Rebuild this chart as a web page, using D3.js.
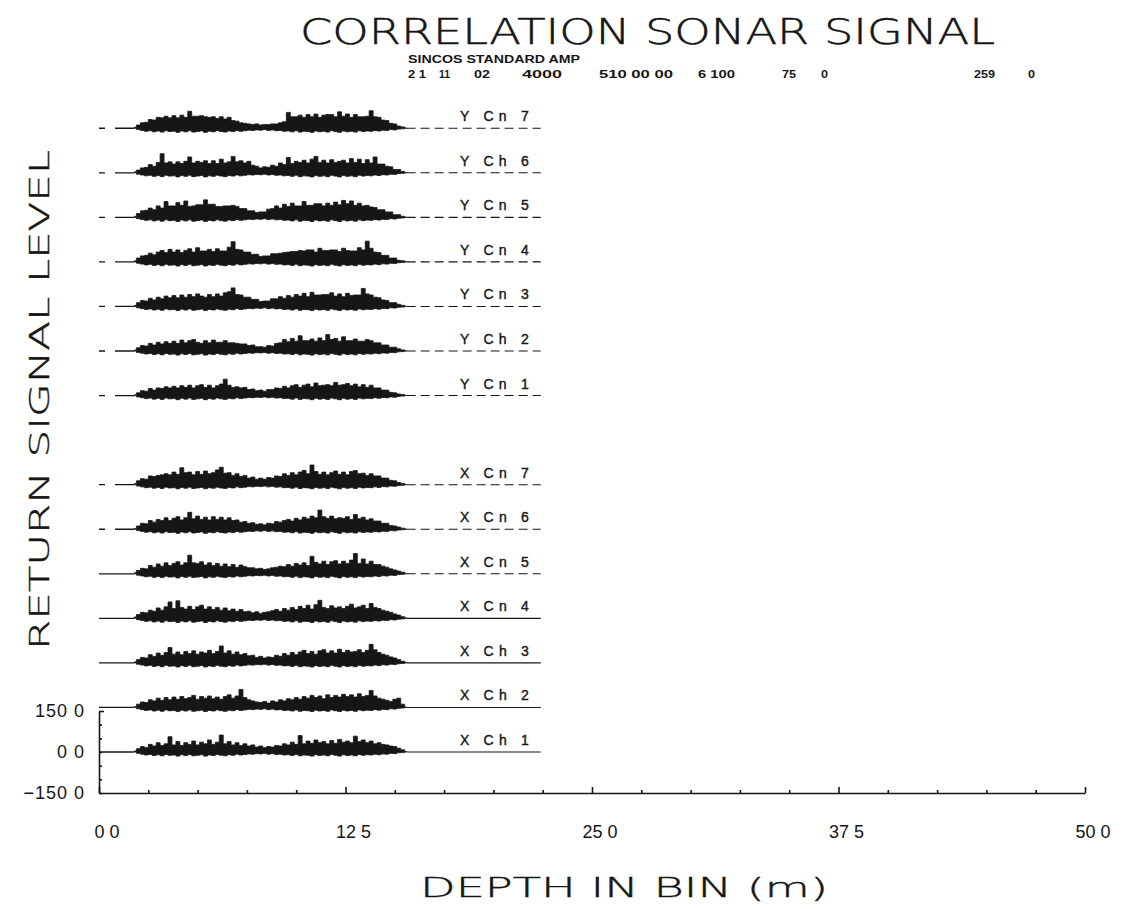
<!DOCTYPE html>
<html><head><meta charset="utf-8">
<script src="https://cdn.jsdelivr.net/npm/d3@7"></script>
<style>body{margin:0;background:#fff}svg{display:block}</style>
</head><body><svg id="c" width="1126" height="909"></svg>
<script>
const title = "CORRELATION SONAR SIGNAL";
const headerLabel = "SINCOS STANDARD AMP";
const headerValues = ["2 1","11","02","4000","510 00 00","6 100","75","0","259","0"];
const xLabel = "DEPTH IN BIN (m)";
const yLabel = "RETURN SIGNAL LEVEL";
const xTickValues = [0, 12.5, 25, 37.5, 50];
const xTickLabels = ["0 0","12 5","25 0","37 5","50 0"];
const yTickValues = [150, 0, -150];
const yTickLabels = ["150 0","0 0","\u2212150 0"];
const channelNames = ["X Ch 1","X Ch 2","X Ch 3","X Cn 4","X Cn 5","X Cn 6","X Cn 7",
                      "Y Cn 1","Y Ch 2","Y Cn 3","Y Cn 4","Y Cn 5","Y Ch 6","Y Cn 7"];
const channelOffsets = [0,163,326,489,652,815,978,1304,1467,1630,1793,1956,2119,2282];
const traceStart = 1.8, traceStep = 0.2, baselineEnd = 22.4;

const traceX1 = [4,12,20,16,28,22,34,24,30,56, 26,38,24,34,28,40,26,36,30,44, 28,36,62,30,38,26,34,24,30,22,
  26,18,22,16,20,18,24,22,30,26, 36,28,60,30,40,32,44,34,38,30, 42,32,46,36,40,34,58,38,44,34, 40,30,34,28,26,22,20,14,8,2];
const traceX2 = [3,12,20,18,28,24,34,26,36,28, 38,30,40,32,36,44,30,40,34,42, 32,38,30,40,46,34,42,66,36,28,
  24,20,18,22,16,24,20,28,24,32, 28,36,30,40,34,44,36,42,32,46, 36,44,38,48,40,46,38,50,40,44, 62,42,34,30,26,22,30,34,12,2];
const traceX3 = [4,12,20,18,30,24,36,28,38,56, 32,40,30,42,34,44,32,40,36,46, 34,42,62,36,44,32,40,30,34,26,
  28,20,24,18,22,20,28,24,34,28, 38,30,40,46,34,42,32,44,48,36, 44,36,50,38,46,40,42,48,38,46, 68,48,38,32,28,22,18,12,6,2];
const traceX4 = [5,14,22,20,30,26,38,30,42,60, 36,64,40,34,44,32,42,48,34,42, 32,40,30,38,28,34,26,32,24,26,
  20,24,18,22,24,28,32,26,36,30, 40,32,44,36,48,34,50,66,40,36, 46,38,42,36,44,52,38,42,48,36, 54,40,36,30,26,22,16,12,6,2];
const traceX5 = [4,12,20,18,30,24,36,28,40,30, 38,44,32,40,68,40,38,44,32,40, 30,38,28,36,26,34,24,32,26,22,
  22,18,20,16,18,22,24,28,26,34, 28,38,32,40,30,64,42,36,46,34, 44,48,36,46,38,50,74,38,54,36, 46,34,34,28,24,18,14,10,6,2];
const traceX6 = [3,12,22,20,32,26,36,32,42,32, 40,46,34,42,62,38,48,36,44,34, 46,36,44,34,42,32,34,26,28,22,
  24,18,20,16,22,20,28,26,32,36, 30,40,34,44,38,48,42,70,46,40, 48,38,42,40,46,36,54,38,44,34, 38,30,30,22,22,14,12,8,4,1];
const traceX7 = [4,14,22,20,32,30,34,36,40,36, 46,38,62,44,46,36,48,38,50,40, 44,54,64,42,44,34,40,30,34,24,
  28,20,24,20,26,24,32,30,40,34, 44,36,46,52,40,72,48,38,46,36, 44,50,38,46,36,48,52,40,42,34, 40,32,32,24,24,16,14,8,4,1];
const traceY1 = [3,10,18,16,26,20,28,26,32,28, 34,28,36,30,38,28,36,40,30,38, 28,36,42,60,38,30,32,28,30,22,
  24,18,20,16,22,22,28,26,34,28, 36,40,30,38,42,32,46,36,38,40, 36,48,38,40,44,36,42,32,40,30, 38,28,28,20,20,12,10,6,4,1];
const traceY2 = [4,12,20,18,28,22,32,26,34,28, 36,28,40,30,38,42,32,28,38,30, 40,32,32,38,30,30,28,26,26,20,
  22,16,16,14,20,18,28,30,42,34, 46,36,56,38,38,44,36,48,38,60, 42,46,36,52,38,38,44,36,36,42, 38,30,30,22,22,14,14,8,4,1];
const traceY3 = [4,14,22,20,30,24,34,28,38,32, 40,32,42,34,44,36,46,38,34,44, 36,46,38,50,54,68,44,42,34,34,
  26,26,18,20,20,28,28,36,30,40, 34,44,38,48,36,52,42,42,44,44, 50,38,46,36,48,40,42,42,66,46, 42,34,32,24,22,14,14,8,4,1];
const traceY4 = [4,14,22,24,32,26,36,42,34,46, 36,44,34,42,48,36,52,40,40,46, 38,48,40,40,54,74,46,44,36,36,
  28,28,20,22,22,30,30,32,34,36, 38,38,42,40,44,44,36,50,42,42, 44,44,38,50,42,40,40,52,44,76, 50,36,34,24,24,14,14,6,4,1];
const traceY5 = [4,14,24,26,34,28,42,34,58,42, 42,54,44,60,40,42,46,46,64,48, 48,40,40,42,42,44,40,32,32,24,
  24,18,20,20,30,32,42,34,48,40, 52,42,42,58,44,44,50,50,42,52, 44,56,46,62,50,60,44,52,42,44, 38,36,28,28,20,20,10,10,4,1];
const traceY6 = [4,10,18,20,30,24,38,70,36,40, 32,40,34,42,58,36,42,38,44,34, 44,34,50,36,40,60,40,44,36,42,
  28,24,18,22,20,28,24,36,30,56, 34,42,38,46,36,50,60,38,46,36, 48,38,42,46,36,52,38,50,34,48, 36,58,32,32,24,22,12,12,5,1];
const traceY7 = [4,12,20,22,32,30,40,38,44,38, 46,38,48,40,62,44,44,46,42,40, 42,36,42,34,40,28,26,20,18,16,
  14,16,12,14,14,16,16,20,24,58, 42,42,48,40,50,42,52,40,48,50, 50,42,60,44,52,40,50,42,42,44, 64,42,40,30,28,18,16,8,5,1];
const lowerEnvelope = [0,-5,-8,-11,-9,-13,-10,-14,-9,-12, -11,-15,-10,-13,-9,-14,-12,-10,-15,-11, -13,-9,-12,-14,-10,-12,-8,-11,-9,-7,
  -8,-6,-7,-5,-8,-6,-9,-8,-11,-10, -13,-9,-14,-11,-12,-15,-10,-13,-11,-14, -9,-12,-15,-10,-13,-11,-14,-9,-12,-10, -11,-8,-10,-7,-8,-5,-6,-3,-2,0];

const traces = [traceX1,traceX2,traceX3,traceX4,traceX5,traceX6,traceX7,
                traceY1,traceY2,traceY3,traceY4,traceY5,traceY6,traceY7];

const svg = d3.select("#c");
const ink = "#161616";
const x = d3.scaleLinear().domain([0, 50]).range([99, 1085]);
const y = d3.scaleLinear().domain([-150, 150]).range([793, 711]);

function fitText(sel, w, mode){ sel.attr("textLength", w).attr("lengthAdjust", mode || "spacingAndGlyphs"); return sel; }

// Title
fitText(svg.append("text").attr("x", 300).attr("y", 44).text(title)
  .attr("font-family","DejaVu Sans").attr("font-weight",200).attr("font-size",36)
  .attr("fill",ink).attr("stroke",ink).attr("stroke-width",0.5), 695);
// Header
fitText(svg.append("text").attr("x", 408).attr("y", 63).text(headerLabel)
  .attr("font-family","Liberation Sans Narrow, Liberation Sans").attr("font-weight","bold").attr("font-size",10).attr("fill",ink), 172);
const headerX = [408, 439, 474, 522, 599, 698, 782, 821, 974, 1028];
const headerW = [18, 11, 16, 40, 74, 37, 14, 7, 21, 7];
headerValues.forEach((t,i)=>{
  fitText(svg.append("text").attr("x", headerX[i]).attr("y", 78).text(t)
    .attr("font-family","Liberation Sans Narrow, Liberation Sans").attr("font-weight","bold").attr("font-size",11).attr("fill",ink), headerW[i]);
});

// Axes
const gx = svg.append("g").attr("transform", `translate(0,${y(-150)})`)
  .call(d3.axisBottom(x).tickValues(d3.range(0, 50.01, 2.5)).tickSize(-3).tickSizeOuter(0).tickFormat(""));
gx.selectAll(".tick line").filter(d => Math.abs(d % 12.5) < 1e-6).attr("y2", -6);
gx.selectAll("path,line").attr("stroke", ink).attr("stroke-width", 1.6);

const gy = svg.append("g").attr("transform", `translate(${x(0)},0)`)
  .call(d3.axisLeft(y).tickValues([-150,-100,-50,0,50,100,150]).tickSize(-3).tickSizeOuter(0).tickFormat(""));
gy.selectAll(".tick line").filter(d => d === 150).attr("x2", 5);
gy.selectAll("path,line").attr("stroke", ink).attr("stroke-width", 1.6);

xTickValues.forEach((v,i)=>{
  svg.append("text").attr("x", x(v) + 8).attr("y", 838).attr("text-anchor","middle").text(xTickLabels[i])
    .attr("font-family","Liberation Sans").attr("font-size",18).attr("fill",ink);
});
yTickValues.forEach((v,i)=>{
  svg.append("text").attr("x", 85).attr("y", y(v) + 6).attr("text-anchor","end").text(yTickLabels[i])
    .attr("font-family","Liberation Sans").attr("font-size",18).attr("letter-spacing",1).attr("fill",ink);
});

// Axis titles
fitText(svg.append("text").attr("x", 420).attr("y", 897).text(xLabel)
  .attr("font-family","DejaVu Sans").attr("font-weight",200).attr("font-size",27)
  .attr("fill",ink).attr("stroke",ink).attr("stroke-width",0.4), 408);
fitText(svg.append("text").attr("transform","translate(49,650) rotate(-90)").text(yLabel)
  .attr("font-family","DejaVu Sans").attr("font-weight",200).attr("font-size",26)
  .attr("fill",ink).attr("stroke",ink).attr("stroke-width",0.4), 500);

// Traces
const area = d3.area().curve(d3.curveStep);
traces.forEach((vals, i) => {
  const off = channelOffsets[i];
  const pts = vals.map((v, j) => ({d: traceStart + j*traceStep, hi: v, lo: lowerEnvelope[j]}));
  const tEnd = traceStart + (vals.length-1)*traceStep;
  svg.append("line").attr("x1", x(0)).attr("x2", x(traceStart)).attr("y1", y(off)).attr("y2", y(off))
    .attr("stroke", ink).attr("stroke-width", 1.3)
    .attr("stroke-dasharray", i >= 5 ? "6,10,40" : null);
  svg.append("line").attr("x1", x(tEnd)).attr("x2", x(baselineEnd)).attr("y1", y(off)).attr("y2", y(off))
    .attr("stroke", ink).attr("stroke-width", 1.1)
    .attr("stroke-dasharray", i >= 4 ? "9,5" : null);
  svg.append("path").datum(pts)
    .attr("d", area.x(p => x(p.d)).y0(p => y(off + p.lo)).y1(p => y(off + p.hi)))
    .attr("fill", ink).attr("stroke", ink).attr("stroke-width", 0.8).attr("stroke-linejoin","miter");
  fitText(svg.append("text").attr("x", x(18.3)).attr("y", y(off) - 7).text(channelNames[i])
    .attr("font-family","Liberation Sans").attr("font-size",14)
    .attr("fill",ink).attr("stroke",ink).attr("stroke-width",0.4), 69, "spacing");
});
</script></body></html>
